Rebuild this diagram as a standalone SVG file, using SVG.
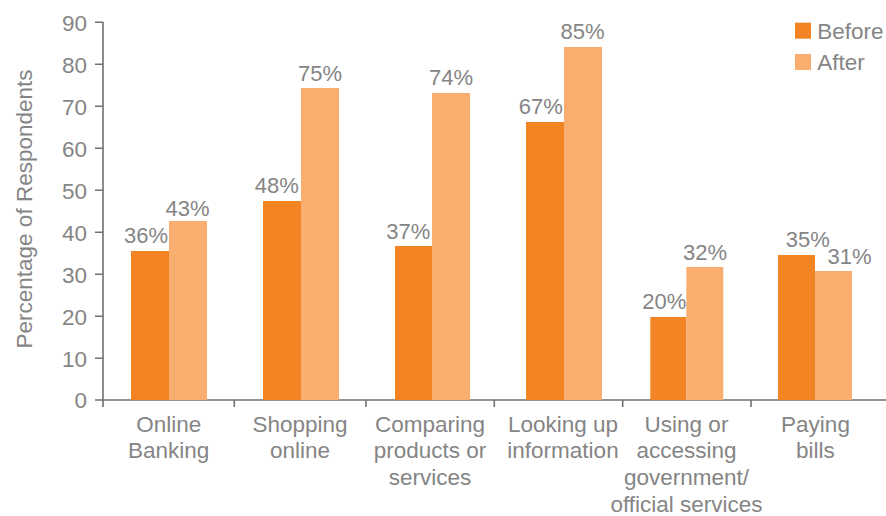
<svg xmlns="http://www.w3.org/2000/svg" width="886" height="516" viewBox="0 0 886 516">
<style>
text{font-family:"Liberation Sans",Arial,sans-serif;fill:#858585;}
.tick{font-size:22.5px;text-anchor:end;}
.val{font-size:22px;text-anchor:middle;}
.cat{font-size:22.5px;text-anchor:middle;}
.leg{font-size:22.5px;}
.before{fill:#f28423;}
.after{fill:#f9ae6f;}
.ax{stroke:#707070;stroke-width:1.6;fill:none;}
</style>
<rect width="886" height="516" fill="#ffffff"/>
<g id="axes">
<path class="ax" d="M103,22V400H886"/>
<path class="ax" d="M95,22.3H103M95,64.3H103M95,106.3H103M95,148.3H103M95,190.3H103M95,232.3H103M95,274.3H103M95,316.3H103M95,358.3H103M95,400H103"/>
<path class="ax" d="M103,400V407M234.3,400V407M366,400V407M494.3,400V407M622.7,400V407M751,400V407"/>
<text class="tick" x="87" y="30.5">90</text>
<text class="tick" x="87" y="72.5">80</text>
<text class="tick" x="87" y="114.5">70</text>
<text class="tick" x="87" y="156.5">60</text>
<text class="tick" x="87" y="198.5">50</text>
<text class="tick" x="87" y="240.5">40</text>
<text class="tick" x="87" y="282.5">30</text>
<text class="tick" x="87" y="324.5">20</text>
<text class="tick" x="87" y="366.5">10</text>
<text class="tick" x="87" y="408">0</text>
<text class="cat" transform="translate(32,209) rotate(-90)" x="0" y="0">Percentage of Respondents</text>
</g>
<g id="online-banking">
<rect class="before" x="131" y="251" width="38" height="149"/>
<rect class="after" x="169" y="221" width="38" height="179"/>
<text class="val" x="146" y="243.3">36%</text>
<text class="val" x="187.5" y="216">43%</text>
<text class="cat" x="168.7" y="431.7">Online</text>
<text class="cat" x="168.7" y="458.3">Banking</text>
</g>
<g id="shopping-online">
<rect class="before" x="263" y="201" width="38" height="199"/>
<rect class="after" x="301" y="88" width="38" height="312"/>
<text class="val" x="276.7" y="193.3">48%</text>
<text class="val" x="320" y="81">75%</text>
<text class="cat" x="300" y="431.7">Shopping</text>
<text class="cat" x="300" y="458.3">online</text>
</g>
<g id="comparing">
<rect class="before" x="395" y="246" width="37" height="154"/>
<rect class="after" x="432" y="93" width="38" height="307"/>
<text class="val" x="408.2" y="239.3">37%</text>
<text class="val" x="451" y="85">74%</text>
<text class="cat" x="430" y="431.7">Comparing</text>
<text class="cat" x="430" y="458.3">products or</text>
<text class="cat" x="430" y="485">services</text>
</g>
<g id="looking-up">
<rect class="before" x="526" y="122" width="38" height="278"/>
<rect class="after" x="564" y="47" width="38" height="353"/>
<text class="val" x="540.7" y="114">67%</text>
<text class="val" x="582.5" y="39">85%</text>
<text class="cat" x="563" y="431.7">Looking up</text>
<text class="cat" x="563" y="458.3">information</text>
</g>
<g id="using-government">
<rect class="before" x="650.3" y="317" width="36" height="83"/>
<rect class="after" x="686.3" y="267" width="37" height="133"/>
<text class="val" x="664.2" y="309">20%</text>
<text class="val" x="705" y="260">32%</text>
<text class="cat" x="686.5" y="431.7">Using or</text>
<text class="cat" x="686.5" y="458.3">accessing</text>
<text class="cat" x="686.5" y="485">government/</text>
<text class="cat" x="686.5" y="511.7">official services</text>
</g>
<g id="paying-bills">
<rect class="before" x="778" y="255" width="37" height="145"/>
<rect class="after" x="815" y="271" width="37" height="129"/>
<text class="val" x="807.8" y="246.7">35%</text>
<text class="val" x="849.5" y="263.7">31%</text>
<text class="cat" x="815.5" y="431.7">Paying</text>
<text class="cat" x="815.5" y="458.3">bills</text>
</g>
<g id="legend">
<rect class="before" x="795" y="22.7" width="16" height="16"/>
<rect class="after" x="795" y="54" width="16" height="16"/>
<text class="leg" x="817.3" y="39.3">Before</text>
<text class="leg" x="817.3" y="70">After</text>
</g>
<g id="connectors"></g>
</svg>
